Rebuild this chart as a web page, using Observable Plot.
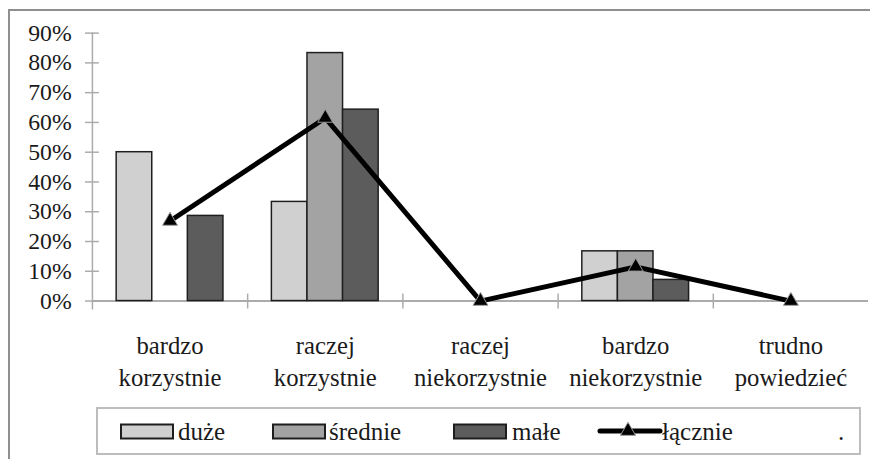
<!DOCTYPE html>
<html><head><meta charset="utf-8">
<script src="https://cdn.jsdelivr.net/npm/d3@7"></script>
<script src="https://cdn.jsdelivr.net/npm/@observablehq/plot@0.6"></script>
<style>
  body { margin: 0; font-size: 22px; font-family: 'Liberation Serif', serif; }
  #wrap { position: relative; width: 870px; height: 459px; overflow: hidden; }
  #frame { position: absolute; left: 8px; top: 9px; width: 1000px; height: 1000px;
           border-left: 2px solid #8f8f8f; border-top: 2px solid #8f8f8f; }
  #chart { position: absolute; left: 0; top: 0; }
  #legend { position: absolute; left: 0; top: 0; }
</style>
</head>
<body>
<div id="wrap">
  <div id="frame"></div>
  <div id="chart"></div>
  <div id="legendbox"></div>
</div>
<script>
// ---- data ----
const categories = ["bardzo korzystnie", "raczej korzystnie", "raczej niekorzystnie", "bardzo niekorzystnie", "trudno powiedzieć"];
const categoryLabels = ["bardzo\nkorzystnie", "raczej\nkorzystnie", "raczej\nniekorzystnie", "bardzo\nniekorzystnie", "trudno\npowiedzieć"];
const seriesNames = ["duże", "średnie", "małe"];
const duze    = [50, 33.3, 0, 16.7, 0];
const srednie = [0, 83.3, 0, 16.7, 0];
const male    = [28.6, 64.3, 0, 7.1, 0];
const lacznieName = "łącznie";
const lacznie = [26.9, 61.5, 0, 11.5, 0];
const yTicks = [0, 10, 20, 30, 40, 50, 60, 70, 80, 90];

// ---- styles ----
const FONT = "Liberation Serif";
const colors = ["#d0d0d0", "#a3a3a3", "#5c5c5c"];
const seriesValues = [duze, srednie, male];
const W = 880, H = 400, mL = 93, mR = 2, mT = 33, mB = 96;
const plotW = W - mL - mR;
const step = plotW / categories.length;
const barW = 36;
const offsets = [-barW, 0, barW];

const rows = [];
seriesNames.forEach((s, si) => categories.forEach((c, ci) => rows.push({cat: c, series: s, si, value: seriesValues[si][ci]})));
const lineRows = categories.map((c, i) => ({cat: c, value: lacznie[i]}));
const labelMap = new Map(categories.map((c, i) => [c, categoryLabels[i]]));

const bars = seriesNames.map((s, si) =>
  Plot.barY(rows.filter(d => d.si === si && d.value > 0), {
    x: "cat", y: "value", fill: colors[si], stroke: "#1e1e1e", strokeWidth: 1.5,
    dx: offsets[si], insetLeft: (step - barW) / 2, insetRight: (step - barW) / 2
  })
);

const chart = Plot.plot({
  width: W, height: H,
  marginLeft: mL, marginRight: mR, marginTop: mT, marginBottom: mB,
  style: {fontFamily: FONT, color: "#1a1a1a", background: "transparent"},
  x: {type: "band", domain: categories, padding: 0, label: null},
  y: {domain: [0, 90], label: null},
  marks: [
    Plot.ruleY([0], {stroke: "#ababab", strokeWidth: 2}),
    Plot.ruleX(categories.slice(1), {x: d => d, y1: 0, y2: 0, insetTop: -7, insetBottom: -8, dx: -step / 2, stroke: "#ababab", strokeWidth: 1.5}),
    Plot.ruleX([categories[0]], {x: d => d, y1: 90, y2: 0, insetBottom: -9, dx: -step / 2, stroke: "#ababab", strokeWidth: 1.5}),
    Plot.ruleY(yTicks, {y: d => d, insetLeft: -7, insetRight: plotW - 7, stroke: "#ababab", strokeWidth: 1.5}),
    Plot.axisY({ticks: yTicks, tickSize: 0, tickPadding: 21, tickFormat: d => d + "%", fontSize: 24, fill: "#1a1a1a"}),
    Plot.axisX({tickSize: 0, tickPadding: 31, tickFormat: d => labelMap.get(d), fontSize: 25, lineHeight: 1.28, fill: "#1a1a1a"}),
    ...bars,
    Plot.line(lineRows, {x: "cat", y: "value", stroke: "#000", strokeWidth: 5, strokeLinejoin: "round"}),
    Plot.dot(lineRows, {x: "cat", y: "value", symbol: "triangle", r: 5.6, fill: "#000", stroke: "#9a9a9a", strokeWidth: 1})
  ]
});
document.getElementById("chart").appendChild(chart);

// ---- legend ----
const lg = d3.select("#legendbox").append("svg").attr("id", "legend").attr("width", 870).attr("height", 459);
lg.append("rect").attr("x", 97).attr("y", 408).attr("width", 763).attr("height", 46)
  .attr("fill", "none").attr("stroke", "#bdbdbd").attr("stroke-width", 2);
const swX = [121, 273, 454];
const txX = [178, 329, 512];
seriesNames.forEach((s, i) => {
  lg.append("rect").attr("x", swX[i]).attr("y", 424.5).attr("width", 52).attr("height", 14)
    .attr("fill", colors[i]).attr("stroke", "#1e1e1e").attr("stroke-width", 2);
  lg.append("text").attr("x", txX[i]).attr("y", 440).text(s)
    .attr("font-family", FONT).attr("font-size", 25).attr("fill", "#1a1a1a");
});
lg.append("line").attr("x1", 600).attr("x2", 660).attr("y1", 431).attr("y2", 431)
  .attr("stroke", "#000").attr("stroke-width", 5).attr("stroke-linecap", "round");
lg.append("path").attr("d", d3.symbol(d3.symbolTriangle, Math.PI * 5.6 * 5.6)()).attr("transform", "translate(628,431)")
  .attr("fill", "#000").attr("stroke", "#9a9a9a").attr("stroke-width", 1);
lg.append("text").attr("x", 662).attr("y", 440).text(lacznieName)
  .attr("font-family", FONT).attr("font-size", 25).attr("fill", "#1a1a1a");
lg.append("text").attr("x", 838).attr("y", 440).text(".")
  .attr("font-family", FONT).attr("font-size", 25).attr("fill", "#1a1a1a");
</script>
</body></html>
